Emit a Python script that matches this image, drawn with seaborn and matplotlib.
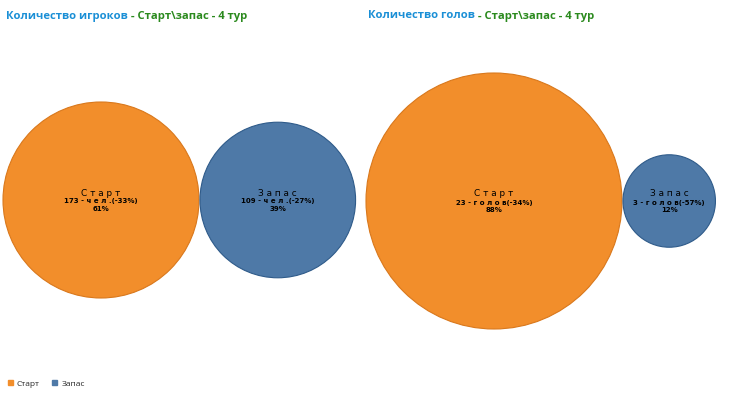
import matplotlib
matplotlib.use("Agg")
import matplotlib.pyplot as plt
from matplotlib.patches import Circle, Patch
import numpy as np
import seaborn as sns

# data
categories = ["Старт", "Запас"]
players = [173, 109]
players_change = ["-33%", "-27%"]
goals = [23, 3]
goals_change = ["-34%", "-57%"]

title_main = ["Количество игроков", "Количество голов"]
title_sub = "Старт\\запас - 4 тур"

colors = ["#f28e2b", "#4e79a7"]
edges = ["#d9781c", "#2f5b8a"]


def spaced(s):
    return " ".join(s)


def draw_bubbles(ax, values, changes, unit, scale, x0, cy):
    total = sum(values)
    radii = [scale * np.sqrt(v) for v in values]
    x = x0
    for i, (v, r) in enumerate(zip(values, radii)):
        cx = x + r
        ax.add_patch(Circle((cx, cy), r, facecolor=colors[i], edgecolor=edges[i], lw=0.8))
        pct = round(v / total * 100)
        ax.text(cx, cy - 7, spaced(categories[i]), ha="center", va="center", fontsize=6.4,
                color="black", family="DejaVu Sans")
        ax.text(cx, cy + 1.5, f"{v} - {spaced(unit)}({changes[i]})", ha="center", va="center",
                fontsize=5, fontweight="bold", color="black", family="DejaVu Sans")
        ax.text(cx, cy + 9, f"{pct}%", ha="center", va="center",
                fontsize=5, fontweight="bold", color="black", family="DejaVu Sans")
        x = cx + r + 1


sns.set_style("white")
plt.rcParams["font.family"] = ["Open Sans", "DejaVu Sans"]

fig = plt.figure(figsize=(7.30, 3.97), dpi=100)
ax = fig.add_axes([0, 0, 1, 1])
ax.set_xlim(0, 730)
ax.set_ylim(397, 0)
ax.set_aspect("equal")
ax.axis("off")

draw_bubbles(ax, players, players_change, "чел.", 98 / np.sqrt(173), 3, 200)
draw_bubbles(ax, goals, goals_change, "голов", 128 / np.sqrt(23), 366, 201)

# titles
for x, main in zip([6, 368], title_main):
    t = ax.text(x, 16, main, ha="left", va="center", fontsize=8.1,
                fontweight="bold", color="#1a8fd6")
    fig.canvas.draw()
    bb = t.get_window_extent()
    inv = ax.transData.inverted()
    xe = inv.transform((bb.x1, bb.y0))[0]
    ax.text(xe, 16, " - " + title_sub, ha="left", va="center", fontsize=8.1,
            fontweight="bold", color="#2b8a1e")

handles = [Patch(facecolor=c, edgecolor=c) for c in colors]
fig.legend(handles, categories, loc="lower left", bbox_to_anchor=(0.0, 0.005), ncol=2,
           frameon=False, fontsize=6, handlelength=0.6, handleheight=0.6,
           handletextpad=0.5, columnspacing=1.5)

fig.savefig("out.png", dpi=100)
